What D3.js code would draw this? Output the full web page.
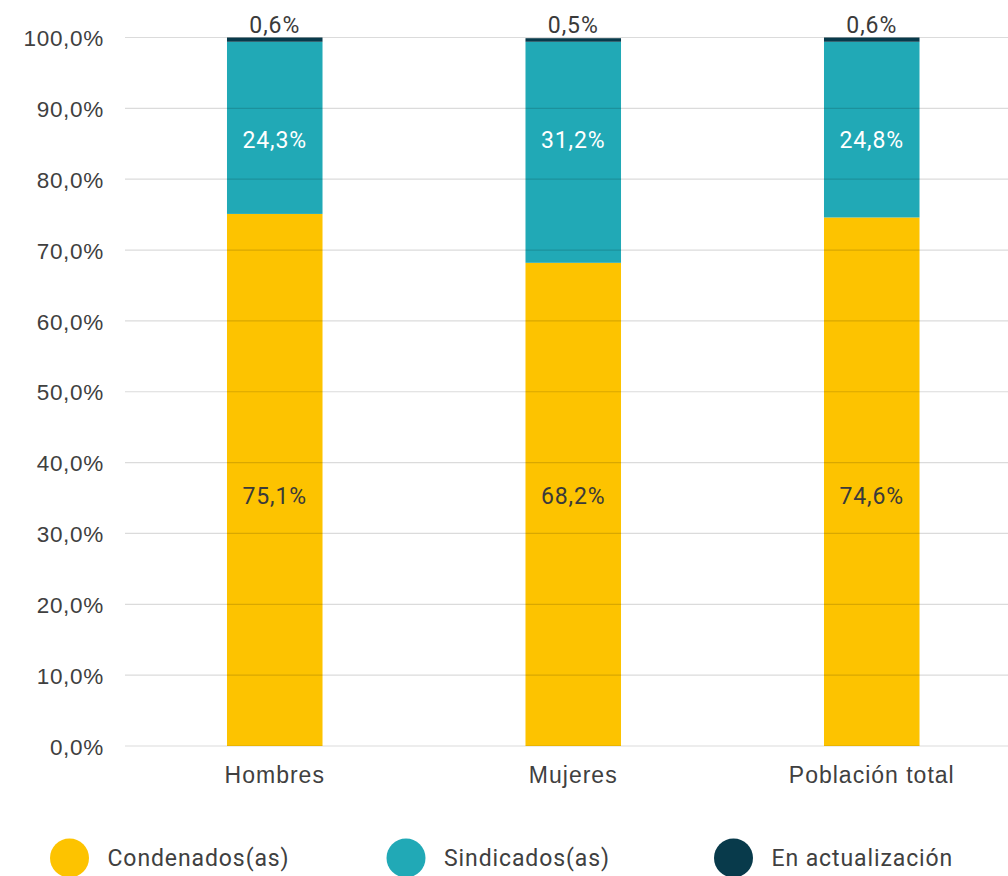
<!DOCTYPE html>
<html>
<head>
<meta charset="utf-8">
<script src="https://cdn.jsdelivr.net/npm/d3@7"></script>
<style>
  html, body { margin: 0; padding: 0; background: #fff; }
  svg { display: block; font-family: Roboto, "DejaVu Sans", sans-serif; }
</style>
</head>
<body>
<svg id="chart" width="1008" height="876"></svg>
<script>
// Categories and stacked series (percent of each group)
const categories = ["Hombres", "Mujeres", "Población total"];
const seriesNames = ["Condenados(as)", "Sindicados(as)", "En actualización"];
const condenados = [75.1, 68.2, 74.6];
const sindicados = [24.3, 31.2, 24.8];
const enActualizacion = [0.6, 0.5, 0.6];
const yTicks = [0, 10, 20, 30, 40, 50, 60, 70, 80, 90, 100];

const colors = ["#FDC300", "#21A9B6", "#083A4B"];
const labelColors = ["#3a3a3a", "#ffffff", "#3a3a3a"];

const rows = categories.map((c, i) => ({
  cat: c,
  "Condenados(as)": condenados[i],
  "Sindicados(as)": sindicados[i],
  "En actualización": enActualizacion[i]
}));

const stacked = d3.stack().keys(seriesNames)(rows);

const svg = d3.select("#chart");
const fmt = v => d3.format(".1f")(v).replace(".", ",") + "%";

const x = d3.scaleBand()
  .domain(categories)
  .range([125.5, 1021])
  .paddingInner(0.68)
  .paddingOuter(0.34);

const y = d3.scaleLinear().domain([0, 100]).range([746, 37.5]);

// Bars
const layers = svg.append("g").selectAll("g")
  .data(stacked)
  .join("g")
  .attr("fill", (d, i) => colors[i]);

layers.selectAll("rect")
  .data(d => d)
  .join("rect")
  .attr("x", d => x(d.data.cat))
  .attr("width", x.bandwidth())
  .attr("y", d => y(d[1]))
  .attr("height", d => y(d[0]) - y(d[1]));

// Y axis tick labels
const yAxis = d3.axisLeft(y)
  .tickValues(yTicks)
  .tickSize(0)
  .tickPadding(0)
  .tickFormat(d => fmt(d));

const gy = svg.append("g")
  .attr("transform", "translate(104,0)")
  .call(yAxis);
gy.select(".domain").remove();
gy.selectAll("text")
  .attr("font-size", 22.5)
  .attr("fill", "#404040")
  .attr("letter-spacing", "0.7px")
  .attr("dy", "0.36em");

// Gridlines drawn over bars (semi-transparent)
svg.append("g").selectAll("line")
  .data(yTicks)
  .join("line")
  .attr("x1", 125)
  .attr("x2", 1008)
  .attr("y1", d => y(d))
  .attr("y2", d => y(d))
  .attr("stroke", "rgba(0,0,0,0.14)")
  .attr("stroke-width", 1.2);

// X axis labels
const xAxis = d3.axisBottom(x).tickSize(0).tickPadding(0);
const gx = svg.append("g")
  .attr("transform", "translate(0,775)")
  .call(xAxis);
gx.select(".domain").remove();
gx.selectAll("text")
  .attr("font-size", 23)
  .attr("fill", "#404040")
  .attr("letter-spacing", "1px")
  .attr("dy", "0.36em");

// Data labels: first two series share a common row near the mean segment midpoint
const labelOffsets = [7, 3];
const labelG = svg.append("g").attr("text-anchor", "middle")
  .attr("font-size", 23).attr("letter-spacing", "0.9px");

stacked.forEach((layer, si) => {
  const meanMid = d3.mean(layer, d => (d[0] + d[1]) / 2);
  labelG.selectAll(null)
    .data(layer)
    .join("text")
    .attr("x", d => x(d.data.cat) + x.bandwidth() / 2)
    .attr("y", d => si < 2 ? y(meanMid) + labelOffsets[si] : y(d[1]) - 5)
    .attr("dy", si < 2 ? "0.36em" : "0")
    .attr("fill", labelColors[si])
    .text(d => fmt(d[1] - d[0]));
});

// Legend
const legendX = [69.5, 406, 733.5];
const legend = svg.append("g").selectAll("g")
  .data(seriesNames)
  .join("g")
  .attr("transform", (d, i) => `translate(${legendX[i]},858)`);
legend.append("circle").attr("r", 19.5).attr("fill", (d, i) => colors[i]);
legend.append("text")
  .attr("x", 38)
  .attr("dy", "0.36em")
  .attr("font-size", 23)
  .attr("letter-spacing", "0.9px")
  .attr("fill", "#404040")
  .text(d => d);
</script>
</body>
</html>
